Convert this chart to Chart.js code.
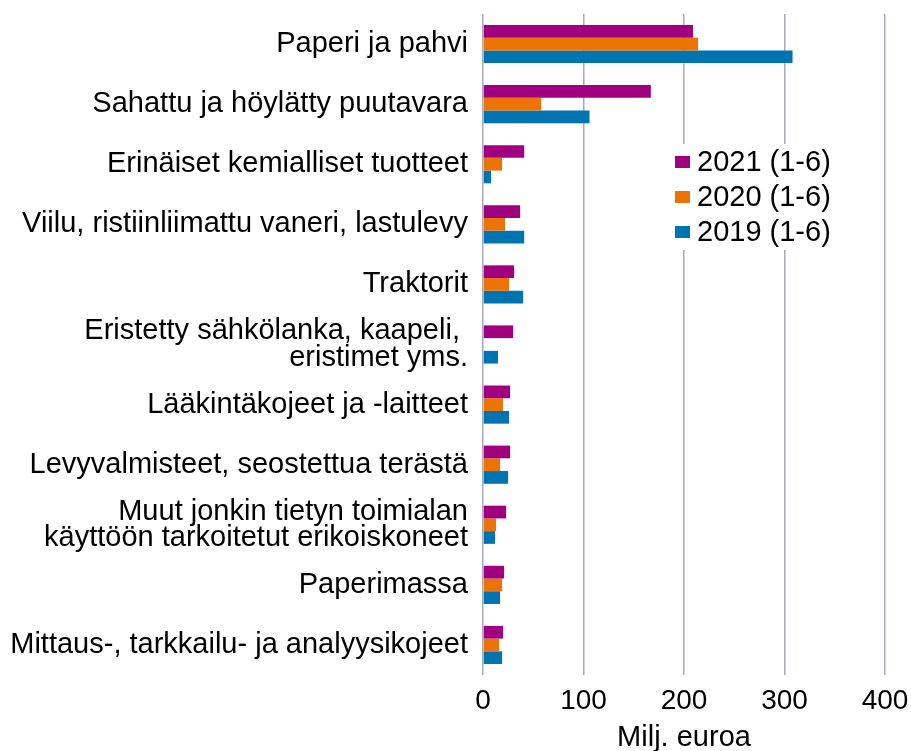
<!DOCTYPE html>
<html>
<head>
<meta charset="utf-8">
<script src="https://cdn.jsdelivr.net/npm/chart.js@4/dist/chart.umd.min.js"></script>
<style>
  html, body { margin:0; padding:0; background:#fff; overflow:hidden; }
  #wrap { width:911px; height:751px; overflow:hidden; }
</style>
</head>
<body>
<div id="wrap"><canvas id="chart" width="911" height="765"></canvas></div>
<script>
const categories = [
  "Paperi ja pahvi",
  "Sahattu ja höylätty puutavara",
  "Erinäiset kemialliset tuotteet",
  "Viilu, ristiinliimattu vaneri, lastulevy",
  "Traktorit",
  ["Eristetty sähkölanka, kaapeli, ", "eristimet yms."],
  "Lääkintäkojeet ja -laitteet",
  "Levyvalmisteet, seostettua terästä",
  ["Muut jonkin tietyn toimialan", "käyttöön tarkoitetut erikoiskoneet"],
  "Paperimassa",
  "Mittaus-, tarkkailu- ja analyysikojeet"
];
const seriesLabels = ["2021 (1-6)", "2020 (1-6)", "2019 (1-6)"];
const values2021 = [209, 167, 41, 37, 31, 30, 27, 27, 23, 21, 20];
const values2020 = [214, 58, 19, 22, 26, 0, 20, 17, 13, 19, 16];
const values2019 = [308, 106, 8, 41, 40, 15, 26, 25, 12, 17, 19];
const xTicks = [0, 100, 200, 300, 400];
const colors = ["#A00080", "#EC7404", "#0073B1"];

const FONT = "'Liberation Sans', Arial, sans-serif";

// legend drawn inside the plot, over a white box that hides the grid
const boxLegend = {
  id: "boxLegend",
  afterDatasetsDraw(chart){
    const ctx = chart.ctx;
    ctx.save();
    ctx.fillStyle = "#fff";
    ctx.fillRect(640, 144, 210, 106);
    ctx.font = "29px " + FONT;
    ctx.textBaseline = "middle";
    ctx.textAlign = "left";
    chart.data.datasets.forEach((ds, i) => {
      const cy = 162 + i * 35;
      ctx.fillStyle = ds.backgroundColor;
      ctx.fillRect(675, cy - 6, 15, 12);
      ctx.fillStyle = "#000";
      ctx.fillText(ds.label, 697, cy + 1);
    });
    ctx.restore();
  }
};

new Chart(document.getElementById("chart"), {
  type: "bar",
  data: {
    labels: categories,
    datasets: [
      { label: seriesLabels[0], data: values2021, backgroundColor: colors[0] },
      { label: seriesLabels[1], data: values2020, backgroundColor: colors[1] },
      { label: seriesLabels[2], data: values2019, backgroundColor: colors[2] }
    ]
  },
  options: {
    indexAxis: "y",
    responsive: false,
    animation: false,
    categoryPercentage: 0.635,
    barPercentage: 1,
    layout: { padding: { top: 14, right: 26, left: 0, bottom: 0 } },
    plugins: { legend: { display: false }, tooltip: { enabled: false } },
    scales: {
      x: {
        min: 0, max: 400,
        afterBuildTicks: s => { s.ticks = xTicks.map(v => ({ value: v })); },
        afterFit: s => { s.height = 90; s.paddingLeft = 0; s.paddingRight = 0; },
        grid: { color: "#A8A8C0", lineWidth: 1.5, drawTicks: false },
        border: { display: false },
        ticks: { color: "#000", padding: 9, font: { family: FONT, size: 28 } },
        title: {
          display: true, text: "Milj. euroa", color: "#000",
          padding: { top: 0, bottom: 10 },
          font: { family: FONT, size: 29 }
        }
      },
      y: {
        afterFit: s => { s.width = 483; s.paddingTop = 0; s.paddingBottom = 0; },
        grid: { display: false, drawTicks: false },
        border: { display: false },
        ticks: { color: "#000", padding: 15, font: { family: FONT, size: 29, lineHeight: 0.9 } }
      }
    }
  },
  plugins: [boxLegend]
});
</script>
</body>
</html>
